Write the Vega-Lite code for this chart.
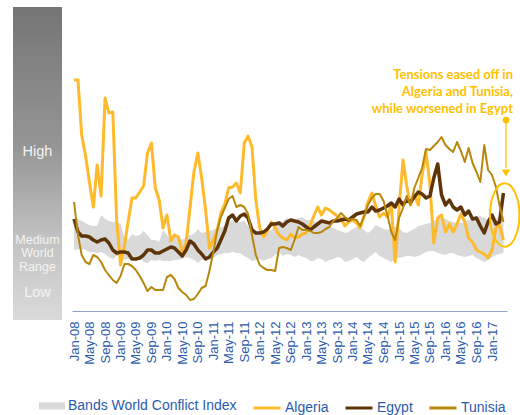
{
  "$schema": "https://vega.github.io/schema/vega-lite/v6.json",
  "padding": {"left": 13, "top": 7, "right": 0, "bottom": 0},
  "bounds": "flush",
  "spacing": 10,
  "config": {"view": {"stroke": null}, "font": "Liberation Sans"},
  "datasets": {
    "d": [
      {"m":"2008-01","a":231,"e":92,"t":109,"hi":91,"lo":61},
      {"m":"2008-02","a":231,"e":79,"t":76,"hi":92,"lo":62},
      {"m":"2008-03","a":176,"e":75,"t":56,"hi":90,"lo":62},
      {"m":"2008-04","a":155,"e":75,"t":49,"hi":88,"lo":61},
      {"m":"2008-05","a":129,"e":74,"t":47,"hi":86,"lo":59},
      {"m":"2008-06","a":104,"e":71,"t":56,"hi":85,"lo":59},
      {"m":"2008-07","a":146,"e":69,"t":54,"hi":85,"lo":58},
      {"m":"2008-08","a":115,"e":71,"t":49,"hi":96,"lo":59},
      {"m":"2008-09","a":213,"e":72,"t":41,"hi":92,"lo":57},
      {"m":"2008-10","a":198,"e":68,"t":36,"hi":90,"lo":54},
      {"m":"2008-11","a":199,"e":61,"t":31,"hi":89,"lo":52},
      {"m":"2008-12","a":91,"e":58,"t":28,"hi":89,"lo":55},
      {"m":"2009-01","a":46,"e":59,"t":35,"hi":87,"lo":55},
      {"m":"2009-02","a":66,"e":59,"t":47,"hi":73,"lo":51},
      {"m":"2009-03","a":89,"e":58,"t":47,"hi":71,"lo":52},
      {"m":"2009-04","a":113,"e":52,"t":45,"hi":77,"lo":53},
      {"m":"2009-05","a":113,"e":52,"t":41,"hi":75,"lo":54},
      {"m":"2009-06","a":119,"e":53,"t":35,"hi":76,"lo":54},
      {"m":"2009-07","a":125,"e":56,"t":28,"hi":80,"lo":49},
      {"m":"2009-08","a":158,"e":61,"t":20,"hi":76,"lo":48},
      {"m":"2009-09","a":168,"e":61,"t":24,"hi":71,"lo":51},
      {"m":"2009-10","a":123,"e":58,"t":21,"hi":71,"lo":50},
      {"m":"2009-11","a":111,"e":58,"t":21,"hi":69,"lo":51},
      {"m":"2009-12","a":83,"e":60,"t":21,"hi":81,"lo":50},
      {"m":"2010-01","a":96,"e":62,"t":34,"hi":76,"lo":50},
      {"m":"2010-02","a":70,"e":64,"t":36,"hi":71,"lo":50},
      {"m":"2010-03","a":76,"e":63,"t":32,"hi":78,"lo":51},
      {"m":"2010-04","a":74,"e":59,"t":23,"hi":75,"lo":51},
      {"m":"2010-05","a":59,"e":55,"t":19,"hi":71,"lo":52},
      {"m":"2010-06","a":68,"e":61,"t":16,"hi":74,"lo":54},
      {"m":"2010-07","a":103,"e":70,"t":11,"hi":76,"lo":53},
      {"m":"2010-08","a":139,"e":67,"t":12,"hi":77,"lo":51},
      {"m":"2010-09","a":158,"e":61,"t":17,"hi":82,"lo":48},
      {"m":"2010-10","a":133,"e":57,"t":23,"hi":78,"lo":51},
      {"m":"2010-11","a":101,"e":52,"t":25,"hi":79,"lo":52},
      {"m":"2010-12","a":63,"e":54,"t":40,"hi":80,"lo":51},
      {"m":"2011-01","a":71,"e":59,"t":59,"hi":81,"lo":53},
      {"m":"2011-02","a":81,"e":63,"t":81,"hi":84,"lo":56},
      {"m":"2011-03","a":98,"e":71,"t":94,"hi":84,"lo":57},
      {"m":"2011-04","a":107,"e":80,"t":103,"hi":85,"lo":58},
      {"m":"2011-05","a":123,"e":93,"t":112,"hi":88,"lo":58},
      {"m":"2011-06","a":124,"e":96,"t":115,"hi":91,"lo":59},
      {"m":"2011-07","a":128,"e":90,"t":104,"hi":89,"lo":58},
      {"m":"2011-08","a":118,"e":95,"t":106,"hi":89,"lo":58},
      {"m":"2011-09","a":168,"e":97,"t":104,"hi":90,"lo":55},
      {"m":"2011-10","a":175,"e":93,"t":97,"hi":85,"lo":53},
      {"m":"2011-11","a":164,"e":81,"t":76,"hi":81,"lo":50},
      {"m":"2011-12","a":111,"e":78,"t":56,"hi":79,"lo":51},
      {"m":"2012-01","a":83,"e":78,"t":46,"hi":77,"lo":52},
      {"m":"2012-02","a":74,"e":79,"t":43,"hi":77,"lo":50},
      {"m":"2012-03","a":80,"e":82,"t":41,"hi":79,"lo":52},
      {"m":"2012-04","a":89,"e":87,"t":41,"hi":81,"lo":53},
      {"m":"2012-05","a":83,"e":87,"t":40,"hi":85,"lo":56},
      {"m":"2012-06","a":76,"e":88,"t":63,"hi":87,"lo":59},
      {"m":"2012-07","a":73,"e":85,"t":64,"hi":90,"lo":55},
      {"m":"2012-08","a":71,"e":89,"t":63,"hi":93,"lo":57},
      {"m":"2012-09","a":77,"e":91,"t":61,"hi":92,"lo":56},
      {"m":"2012-10","a":73,"e":90,"t":71,"hi":90,"lo":54},
      {"m":"2012-11","a":74,"e":89,"t":84,"hi":93,"lo":56},
      {"m":"2012-12","a":77,"e":87,"t":81,"hi":94,"lo":54},
      {"m":"2013-01","a":78,"e":84,"t":81,"hi":91,"lo":53},
      {"m":"2013-02","a":86,"e":81,"t":80,"hi":91,"lo":50},
      {"m":"2013-03","a":95,"e":84,"t":78,"hi":90,"lo":50},
      {"m":"2013-04","a":104,"e":87,"t":78,"hi":89,"lo":53},
      {"m":"2013-05","a":96,"e":90,"t":79,"hi":89,"lo":52},
      {"m":"2013-06","a":103,"e":89,"t":82,"hi":87,"lo":49},
      {"m":"2013-07","a":101,"e":88,"t":84,"hi":85,"lo":51},
      {"m":"2013-08","a":98,"e":90,"t":90,"hi":83,"lo":52},
      {"m":"2013-09","a":95,"e":90,"t":93,"hi":81,"lo":54},
      {"m":"2013-10","a":93,"e":91,"t":98,"hi":80,"lo":53},
      {"m":"2013-11","a":85,"e":92,"t":94,"hi":78,"lo":49},
      {"m":"2013-12","a":89,"e":91,"t":91,"hi":79,"lo":50},
      {"m":"2014-01","a":91,"e":94,"t":92,"hi":82,"lo":52},
      {"m":"2014-02","a":88,"e":97,"t":91,"hi":84,"lo":54},
      {"m":"2014-03","a":83,"e":98,"t":85,"hi":83,"lo":51},
      {"m":"2014-04","a":95,"e":99,"t":95,"hi":81,"lo":49},
      {"m":"2014-05","a":109,"e":99,"t":106,"hi":78,"lo":53},
      {"m":"2014-06","a":118,"e":104,"t":113,"hi":81,"lo":56},
      {"m":"2014-07","a":105,"e":100,"t":117,"hi":86,"lo":59},
      {"m":"2014-08","a":94,"e":101,"t":117,"hi":84,"lo":55},
      {"m":"2014-09","a":98,"e":103,"t":110,"hi":82,"lo":53},
      {"m":"2014-10","a":94,"e":105,"t":96,"hi":81,"lo":51},
      {"m":"2014-11","a":106,"e":108,"t":79,"hi":83,"lo":49},
      {"m":"2014-12","a":49,"e":104,"t":71,"hi":84,"lo":52},
      {"m":"2015-01","a":103,"e":112,"t":93,"hi":83,"lo":53},
      {"m":"2015-02","a":151,"e":106,"t":103,"hi":79,"lo":54},
      {"m":"2015-03","a":126,"e":111,"t":115,"hi":78,"lo":55},
      {"m":"2015-04","a":106,"e":109,"t":106,"hi":80,"lo":55},
      {"m":"2015-05","a":116,"e":114,"t":123,"hi":82,"lo":54},
      {"m":"2015-06","a":106,"e":119,"t":133,"hi":85,"lo":55},
      {"m":"2015-07","a":136,"e":117,"t":143,"hi":86,"lo":57},
      {"m":"2015-08","a":159,"e":113,"t":162,"hi":87,"lo":59},
      {"m":"2015-09","a":126,"e":115,"t":161,"hi":88,"lo":60},
      {"m":"2015-10","a":68,"e":133,"t":165,"hi":90,"lo":60},
      {"m":"2015-11","a":93,"e":147,"t":169,"hi":92,"lo":58},
      {"m":"2015-12","a":96,"e":116,"t":174,"hi":94,"lo":57},
      {"m":"2016-01","a":79,"e":106,"t":166,"hi":92,"lo":56},
      {"m":"2016-02","a":87,"e":111,"t":162,"hi":90,"lo":58},
      {"m":"2016-03","a":79,"e":104,"t":159,"hi":89,"lo":58},
      {"m":"2016-04","a":87,"e":101,"t":169,"hi":88,"lo":56},
      {"m":"2016-05","a":97,"e":104,"t":160,"hi":88,"lo":55},
      {"m":"2016-06","a":89,"e":96,"t":149,"hi":89,"lo":54},
      {"m":"2016-07","a":73,"e":100,"t":163,"hi":91,"lo":55},
      {"m":"2016-08","a":69,"e":92,"t":148,"hi":92,"lo":56},
      {"m":"2016-09","a":61,"e":93,"t":139,"hi":94,"lo":53},
      {"m":"2016-10","a":59,"e":85,"t":129,"hi":95,"lo":51},
      {"m":"2016-11","a":57,"e":78,"t":166,"hi":93,"lo":49},
      {"m":"2016-12","a":53,"e":89,"t":141,"hi":92,"lo":51},
      {"m":"2017-01","a":61,"e":96,"t":136,"hi":91,"lo":54},
      {"m":"2017-02","a":83,"e":87,"t":124,"hi":92,"lo":56},
      {"m":"2017-03","a":86,"e":89,"t":106,"hi":94,"lo":57},
      {"m":"2017-04","a":71,"e":118,"t":89,"hi":94,"lo":58}
    ]
  },
  "hconcat": [
    {
      "width": 49,
      "height": 313,
      "layer": [
        {
          "data": {"values": [{"b": 0, "t": 1, "y0": -9, "y1": 304}]},
          "mark": {
            "type": "rect",
            "fill": {
              "gradient": "linear", "x1": 0, "y1": 0, "x2": 0, "y2": 1,
              "stops": [
                {"offset": 0, "color": "#757575"},
                {"offset": 0.45, "color": "#969696"},
                {"offset": 0.75, "color": "#c3c3c3"},
                {"offset": 1, "color": "#dadada"}
              ]
            }
          },
          "encoding": {
            "x": {"field": "b", "type": "quantitative", "scale": {"domain": [0, 1]}, "axis": null},
            "x2": {"field": "t"},
            "y": {"field": "y0", "type": "quantitative", "scale": {"domain": [-9, 304], "nice": false, "zero": false}, "axis": null},
            "y2": {"field": "y1"}
          }
        },
        {
          "data": {"values": [{"lbl": "High", "v": 159}, {"lbl": "Low", "v": 18}]},
          "mark": {"type": "text", "color": "#f4f4f4", "fontSize": 14.5, "baseline": "middle", "align": "center"},
          "encoding": {
            "x": {"datum": 0.5, "type": "quantitative"},
            "y": {"field": "v", "type": "quantitative"},
            "text": {"field": "lbl"}
          }
        },
        {
          "data": {"values": [{"lbl": "Medium", "v": 71}, {"lbl": "World", "v": 58}, {"lbl": "Range", "v": 44}]},
          "mark": {"type": "text", "color": "#f4f4f4", "fontSize": 12.5, "baseline": "middle", "align": "center"},
          "encoding": {
            "x": {"datum": 0.5, "type": "quantitative"},
            "y": {"field": "v", "type": "quantitative"},
            "text": {"field": "lbl"}
          }
        }
      ]
    },
    {
      "width": 435,
      "height": 304,
      "encoding": {
        "x": {
          "field": "m", "type": "temporal",
          "scale": {"type": "utc", "domain": [{"year": 2007, "month": 12, "date": 16, "utc": true}, {"year": 2017, "month": 4, "date": 29, "utc": true}]},
          "axis": {
            "title": null,
            "labelExpr": "utcFormat(datum.value, '%b-%y')",
            "tickCount": {"interval": "month", "step": 4},
            "labelAngle": -90, "labelFontSize": 13, "labelColor": "#2B5BAE",
            "labelPadding": 10, "ticks": false, "tickSize": 0, "grid": false,
            "domainColor": "#8FA2CC", "domainWidth": 1,
            "labelOverlap": false, "labelFlush": false
          }
        }
      },
      "layer": [
        {
          "data": {"name": "d"},
          "mark": {"type": "area"},
          "encoding": {
            "y": {"field": "hi", "type": "quantitative", "scale": {"domain": [0, 304], "nice": false}, "axis": null},
            "y2": {"field": "lo"},
            "fill": {
              "datum": "Bands World Conflict Index", "type": "nominal",
              "scale": {"domain": ["Bands World Conflict Index"], "range": ["#D9D9D9"]},
              "legend": {
                "orient": "none", "legendX": 26, "legendY": 386, "title": null,
                "symbolType": "M-1,-0.27H1V0.27H-1Z", "symbolSize": 676, "symbolStrokeWidth": 0,
                "labelFontSize": 14, "labelColor": "#2B5BAE", "labelOffset": 3, "labelLimit": 400, "padding": 0
              }
            }
          }
        },
        {
          "data": {"name": "d"},
          "mark": {"type": "line", "strokeWidth": 3, "strokeJoin": "round"},
          "encoding": {
            "y": {"field": "a", "type": "quantitative"},
            "stroke": {
              "datum": "Algeria", "type": "nominal",
              "scale": {"domain": ["Algeria", "Egypt", "Tunisia"], "range": ["#FFBA2C", "#5E3409", "#B8860B"]},
              "legend": {
                "orient": "none", "legendX": 239, "legendY": 386, "direction": "horizontal", "title": null,
                "symbolType": "stroke", "symbolSize": 729, "symbolStrokeWidth": 3,
                "labelFontSize": 14, "labelColor": "#2B5BAE", "labelOffset": 3, "labelLimit": 200,
                "columnPadding": 10, "gridAlign": "each", "padding": 0
              }
            }
          }
        },
        {
          "data": {"name": "d"},
          "mark": {"type": "line", "strokeWidth": 3.5, "strokeJoin": "round"},
          "encoding": {
            "y": {"field": "e", "type": "quantitative"},
            "stroke": {"datum": "Egypt", "type": "nominal"}
          }
        },
        {
          "data": {"name": "d"},
          "mark": {"type": "line", "strokeWidth": 2, "strokeJoin": "round"},
          "encoding": {
            "y": {"field": "t", "type": "quantitative"},
            "stroke": {"datum": "Tunisia", "type": "nominal"}
          }
        },
        {
          "data": {"values": [{"m": "2017-04-11", "v": 96}]},
          "mark": {"type": "point", "shape": "M0,-1A0.464,1,0,1,1,0,1A0.464,1,0,1,1,0,-1Z", "size": 4020, "filled": false, "stroke": "#FFC000", "strokeWidth": 2, "opacity": 1},
          "encoding": {"y": {"field": "v", "type": "quantitative"}}
        },
        {
          "data": {"values": [{"m": "2017-04-21", "v": 191, "v2": 143}]},
          "mark": {"type": "rule", "color": "#FFC000", "strokeWidth": 1.2},
          "encoding": {"y": {"field": "v", "type": "quantitative"}, "y2": {"field": "v2"}}
        },
        {
          "data": {"values": [{"m": "2017-04-21", "v": 191}]},
          "mark": {"type": "point", "shape": "circle", "size": 45, "filled": true, "color": "#FFC000", "opacity": 1},
          "encoding": {"y": {"field": "v", "type": "quantitative"}}
        },
        {
          "data": {"values": [{"m": "2017-04-21", "v": 138}]},
          "mark": {"type": "point", "shape": "triangle-down", "size": 70, "filled": true, "color": "#FFC000", "opacity": 1},
          "encoding": {"y": {"field": "v", "type": "quantitative"}}
        },
        {
          "data": {"values": [
            {"m": "2017-06-15", "v": 236, "txt": "Tensions eased off in"},
            {"m": "2017-06-15", "v": 219, "txt": "Algeria and Tunisia,"},
            {"m": "2017-06-15", "v": 202, "txt": "while worsened in Egypt"}
          ]},
          "mark": {"type": "text", "align": "right", "baseline": "middle", "font": "Lato", "fontWeight": "bold", "fontSize": 13, "color": "#FFC000"},
          "encoding": {"y": {"field": "v", "type": "quantitative"}, "text": {"field": "txt"}}
        }
      ]
    }
  ]
}
